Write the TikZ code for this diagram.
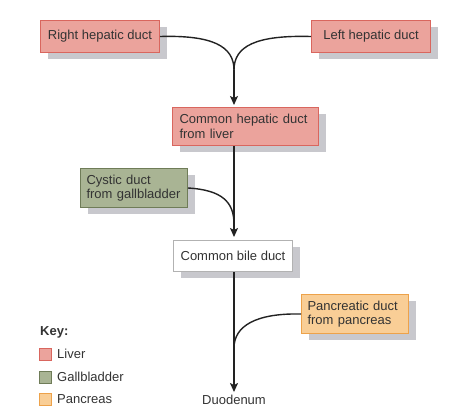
\documentclass[tikz,border=0pt]{standalone}
\usepackage{fontspec}
\setmainfont{Liberation Sans}
\usetikzlibrary{shadows,arrows.meta}
\definecolor{liverfill}{HTML}{EBA39C}
\definecolor{liverdraw}{HTML}{D9665E}
\definecolor{gallfill}{HTML}{A9B494}
\definecolor{galldraw}{HTML}{6F7C58}
\definecolor{pancfill}{HTML}{F9CE96}
\definecolor{pancdraw}{HTML}{EDA24A}
\definecolor{shadowgray}{HTML}{C8C8CD}
\definecolor{linecol}{HTML}{222222}
\definecolor{textcol}{HTML}{333333}
\begin{document}
\begin{tikzpicture}[x=1pt,y=-1pt,
  font=\fontsize{13}{14.5}\selectfont, text=textcol,
  box/.style={draw, line width=1pt, anchor=north west, inner sep=0pt,
    drop shadow={shadow xshift=7pt, shadow yshift=-6pt, opacity=1, fill=shadowgray}},
  liver/.style={box, fill=liverfill, draw=liverdraw},
  gall/.style={box, fill=gallfill, draw=galldraw},
  panc/.style={box, fill=pancfill, draw=pancdraw},
  white/.style={box, fill=white, draw=black!30},
  conn/.style={draw=linecol, line width=1.4pt},
  arr/.style={conn, -{Stealth[length=9pt,width=8pt,inset=2pt]}},
  swatch/.style={draw, line width=0.8pt, minimum size=12pt, inner sep=0pt},
  keylabel/.style={anchor=west, inner sep=0pt}]
\useasboundingbox (0,0) rectangle (474,418);

% boxes
\node[liver, minimum width=119pt, minimum height=32pt] (rh) at (40,20) {Right hepatic duct};
\node[liver, minimum width=119pt, minimum height=32pt] (lh) at (311,20) {Left hepatic duct};
\node[liver, minimum width=146pt, minimum height=38pt, text width=132pt, align=left, inner xsep=7pt] (ch) at (172,107) {Common hepatic duct\\from liver};
\node[gall, minimum width=107pt, minimum height=39pt, text width=95pt, align=left, inner xsep=6pt] (cy) at (80,168) {Cystic duct\\from gallbladder};
\node[white, minimum width=119pt, minimum height=31pt] (cb) at (173,240) {Common bile duct};
\node[panc, minimum width=107pt, minimum height=39pt, text width=95pt, align=left, inner xsep=6pt] (pa) at (301,294) {Pancreatic duct\\from pancreas};
\node[inner sep=2pt] (du) at (234,400) {Duodenum};

% junctions
\coordinate (j1) at (234,70);
\coordinate (j2) at (234,224);
\coordinate (j3) at (234,348);

% connectors
\draw[conn] (rh.east) .. controls (212,35) and (234,46) .. (j1);
\draw[conn] (lh.west) .. controls (256,35) and (234,46) .. (j1);
\draw[arr, shorten >=2pt] (j1) -- (j1 |- ch.north);

\draw[conn] (j1 |- ch.south) -- (j2);
\draw[conn] (cy.east) .. controls (222,190) and (234,202) .. (j2);
\draw[arr, shorten >=3pt] (j2) -- (j2 |- cb.north);

\draw[conn] (pa.west) .. controls (256,313) and (234,326) .. (j3);
\draw[arr, shorten >=1pt] (j2 |- cb.south) -- (du.north);

% key
\node[anchor=west, inner sep=0pt, font=\fontsize{13}{14.5}\selectfont\bfseries] (key) at (40,332) {Key:};
\node[swatch, fill=liverfill, draw=liverdraw] (s1) at (45.5,354) {};
\node[swatch, fill=gallfill, draw=galldraw] (s2) at (45.5,377) {};
\node[swatch, fill=pancfill, draw=pancdraw] (s3) at (45.5,399) {};
\node[keylabel] (k1) at (57,354) {Liver};
\node[keylabel] (k2) at (57,377) {Gallbladder};
\node[keylabel] (k3) at (57,399) {Pancreas};
\end{tikzpicture}
\end{document}
